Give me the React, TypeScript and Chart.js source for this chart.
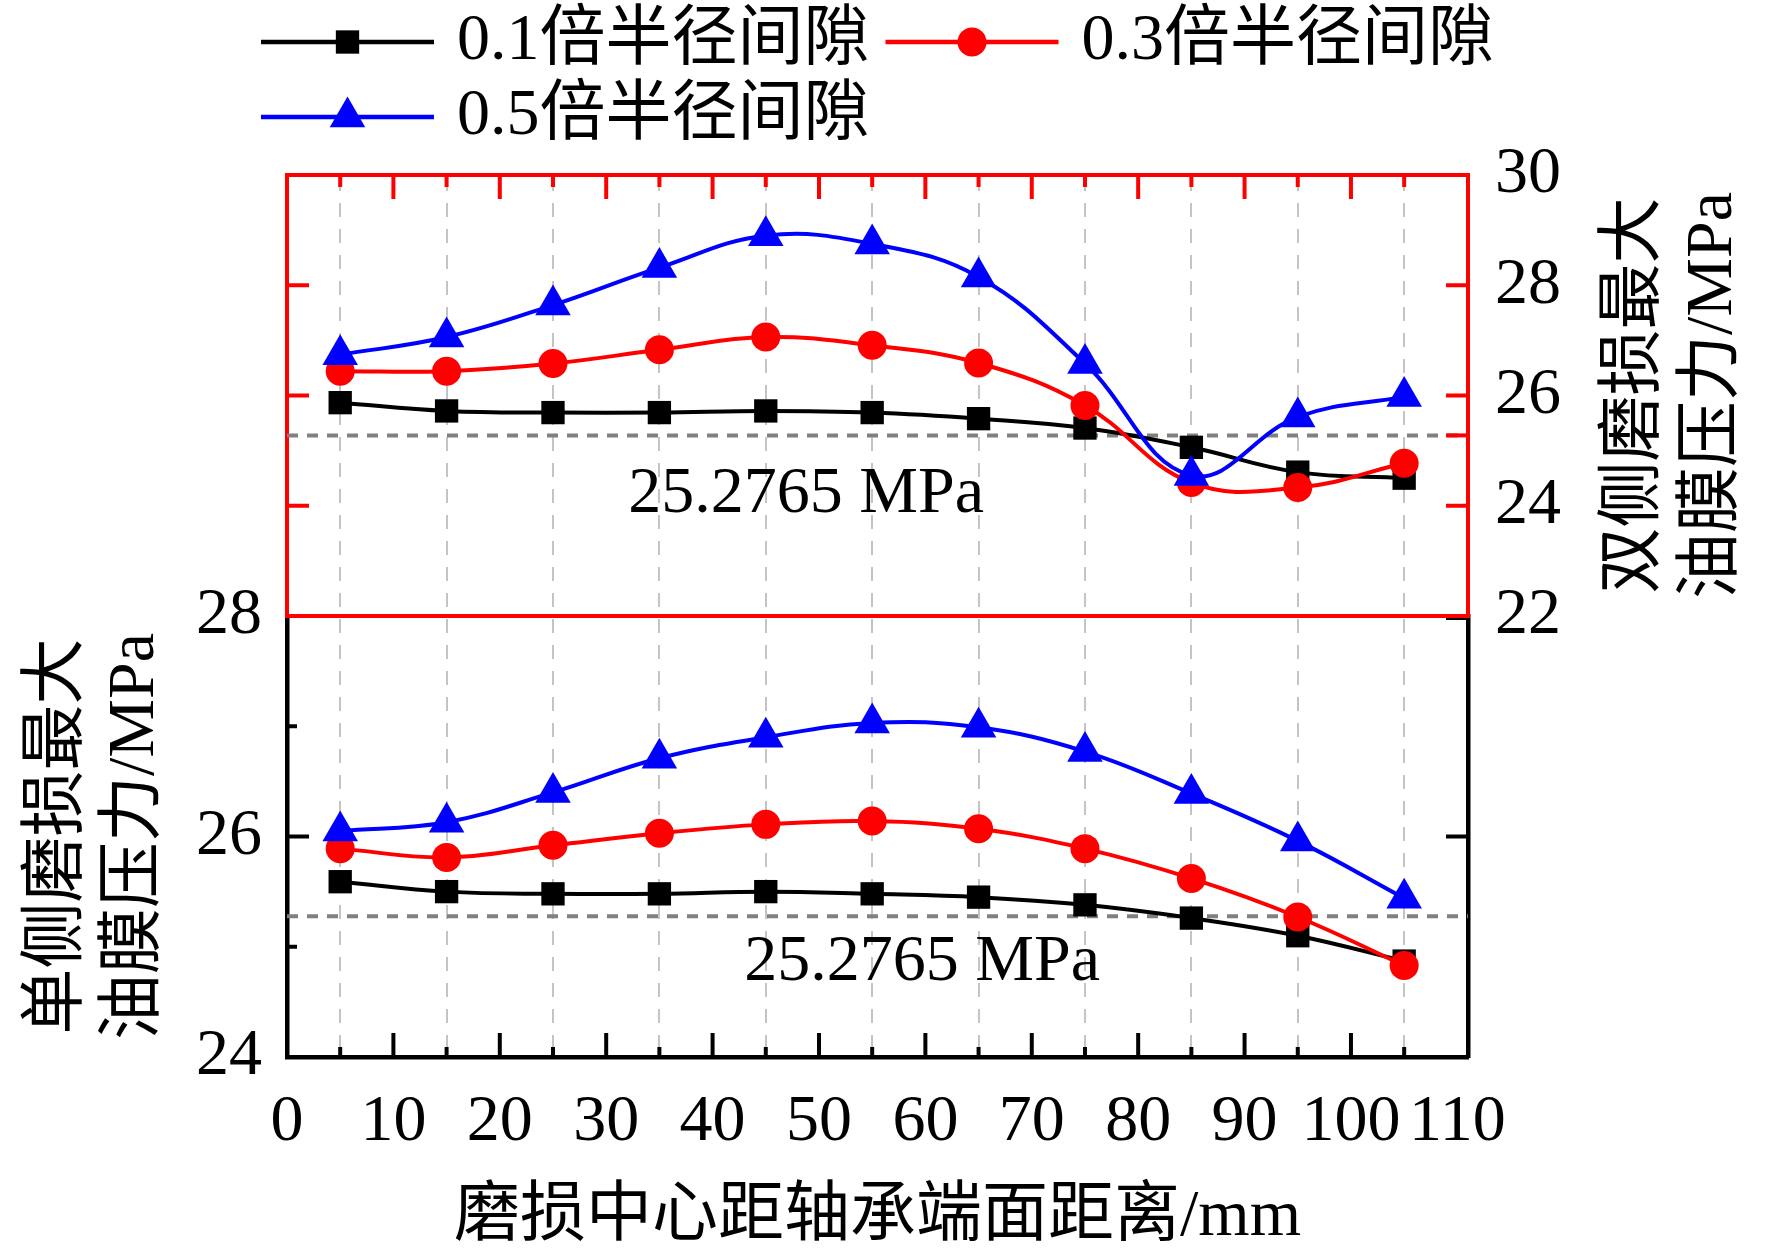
import React, { useEffect, useRef } from 'react';
import { Chart, registerables, PointElement } from 'chart.js';

Chart.register(...registerables);

// ---------- data ----------
const X_POSITIONS = [5, 15, 25, 35, 45, 55, 65, 75, 85, 95, 105];
const X_TICK_VALUES = [0, 10, 20, 30, 40, 50, 60, 70, 80, 90, 100, 110];
const X_MIN = 0;
const X_MAX = 111;

const SERIES_LABELS = ['0.1倍半径间隙', '0.3倍半径间隙', '0.5倍半径间隙'];

// lower panel: single-side wear (left axis)
const SINGLE_SIDE_01 = [25.59, 25.5, 25.48, 25.48, 25.5, 25.48, 25.45, 25.38, 25.26, 25.1, 24.87];
const SINGLE_SIDE_03 = [25.89, 25.81, 25.92, 26.03, 26.11, 26.14, 26.07, 25.89, 25.62, 25.27, 24.83];
const SINGLE_SIDE_05 = [26.05, 26.13, 26.4, 26.71, 26.9, 27.03, 26.99, 26.77, 26.39, 25.96, 25.44];

// upper panel: double-side wear (right axis)
const DOUBLE_SIDE_01 = [25.87, 25.72, 25.69, 25.69, 25.72, 25.69, 25.58, 25.41, 25.06, 24.61, 24.5];
const DOUBLE_SIDE_03 = [26.44, 26.44, 26.58, 26.83, 27.06, 26.91, 26.59, 25.82, 24.42, 24.33, 24.77];
const DOUBLE_SIDE_05 = [26.74, 27.06, 27.64, 28.32, 28.9, 28.75, 28.15, 26.58, 24.55, 25.61, 25.98];

const REFERENCE_VALUE = 25.2765;
const REFERENCE_TEXT = '25.2765 MPa';

const UPPER_MIN = 22;
const UPPER_MAX = 30;
const UPPER_TICKS = [22, 24, 26, 28, 30];
const UPPER_INNER_TICKS = [24, 26, 28];
const LOWER_MIN = 24;
const LOWER_MAX = 28;
const LOWER_TICKS = [24, 26, 28];
const LOWER_MINOR_TICKS = [25, 27];

const X_TITLE = '磨损中心距轴承端面距离/mm';
const LEFT_TITLE = ['单侧磨损最大', '油膜压力/MPa'];
const RIGHT_TITLE = ['双侧磨损最大', '油膜压力/MPa'];

// annotation anchor (data coordinates)
const UPPER_NOTE = { x: 48.8, y: 24.21 };
const LOWER_NOTE = { x: 59.7, y: 24.86 };

// ---------- styles ----------
const W = 1772;
const H = 1255;
const FONT = "'Liberation Serif', 'Noto Sans CJK SC', serif";
const FS = 66;
const RED = '#ff0000';
const BLACK = '#000000';
const BLUE = '#0000ff';
const COLORS = [BLACK, RED, BLUE];
const POINT_STYLES = ['rect', 'circle', 'triangle'];
const POINT_RADII = [16.5, 14.5, 20.5];
const ORDERS = [3, 2, 1];

const toPts = (ys: number[]) => X_POSITIONS.map((x, i) => ({ x, y: ys[i] }));

const decorPlugin = {
  id: 'decor',
  afterDatasetsDraw(chart: any) {
    const { ctx, chartArea: ca, scales } = chart;
    const xs = scales.x;
    const yU = scales.yUR;
    const yL = scales.yLL;
    ctx.save();
    ctx.lineCap = 'butt';
    const hTick = (y: number, x0: number, dir: number, len: number, color: string) => {
      ctx.strokeStyle = color;
      ctx.lineWidth = 4;
      ctx.beginPath();
      ctx.moveTo(x0, y);
      ctx.lineTo(x0 + dir * len, y);
      ctx.stroke();
    };
    const vTick = (x: number, y0: number, dir: number, len: number, color: string) => {
      ctx.strokeStyle = color;
      ctx.lineWidth = 4;
      ctx.beginPath();
      ctx.moveTo(x, y0);
      ctx.lineTo(x, y0 + dir * len);
      ctx.stroke();
    };
    // upper panel ticks (red)
    UPPER_INNER_TICKS.forEach((v) => {
      const p = yU.getPixelForValue(v);
      hTick(p, ca.left, 1, 22, RED);
      hTick(p, ca.right, -1, 22, RED);
    });
    hTick(yU.getPixelForValue(REFERENCE_VALUE), ca.right, -1, 22, RED);
    // lower panel ticks (black)
    hTick(yL.getPixelForValue(26), ca.left, 1, 22, BLACK);
    hTick(yL.getPixelForValue(26), ca.right, -1, 22, BLACK);
    hTick(yL.getPixelForValue(28) + 2, ca.right, -1, 22, BLACK);
    LOWER_MINOR_TICKS.forEach((v) => hTick(yL.getPixelForValue(v), ca.left, 1, 10, BLACK));
    // x ticks top (red) and bottom (black)
    X_TICK_VALUES.slice(1, -1).forEach((v) => {
      const p = xs.getPixelForValue(v);
      vTick(p, ca.top, 1, 24, RED);
      vTick(p, ca.bottom, -1, 24, BLACK);
    });
    X_POSITIONS.forEach((v) => {
      const p = xs.getPixelForValue(v);
      vTick(p, ca.top, 1, 12, RED);
      vTick(p, ca.bottom, -1, 10, BLACK);
    });
    // boundary line between panels
    ctx.strokeStyle = RED;
    ctx.lineWidth = 4;
    ctx.beginPath();
    ctx.moveTo(ca.left - 2, yU.bottom);
    ctx.lineTo(ca.right + 2, yU.bottom);
    ctx.stroke();

    // reference annotations
    ctx.fillStyle = BLACK;
    ctx.font = `${FS}px ${FONT}`;
    ctx.textAlign = 'center';
    ctx.textBaseline = 'middle';
    ctx.fillText(REFERENCE_TEXT, xs.getPixelForValue(UPPER_NOTE.x), yU.getPixelForValue(UPPER_NOTE.y));
    ctx.fillText(REFERENCE_TEXT, xs.getPixelForValue(LOWER_NOTE.x), yL.getPixelForValue(LOWER_NOTE.y));

    // right axis title (reads bottom to top)
    const cy = (yU.top + yU.bottom) / 2;
    RIGHT_TITLE.forEach((line, i) => {
      ctx.save();
      ctx.translate(yU.left + 168 + i * 78, cy);
      ctx.rotate(-Math.PI / 2);
      ctx.fillText(line, 0, 0);
      ctx.restore();
    });
    ctx.restore();
  },
  afterDraw(chart: any) {
    const { ctx } = chart;
    ctx.save();
    ctx.font = `${FS}px ${FONT}`;
    ctx.textAlign = 'left';
    ctx.textBaseline = 'middle';
    const lineLen = 173;
    const rows = [42, 117];
    const startX = 261;
    const firstTextW = ctx.measureText(SERIES_LABELS[0]).width;
    const items = [
      { x: startX, y: rows[0] },
      { x: startX + lineLen + 23 + firstTextW + 16, y: rows[0] },
      { x: startX, y: rows[1] },
    ];
    items.forEach((it, i) => {
      ctx.strokeStyle = COLORS[i];
      ctx.lineWidth = 4.5;
      ctx.beginPath();
      ctx.moveTo(it.x, it.y);
      ctx.lineTo(it.x + lineLen, it.y);
      ctx.stroke();
      const pt: any = new PointElement({});
      pt.x = it.x + lineLen / 2;
      pt.y = it.y;
      pt.options = {
        pointStyle: POINT_STYLES[i],
        radius: POINT_RADII[i],
        hoverRadius: 0,
        rotation: 0,
        backgroundColor: COLORS[i],
        borderColor: COLORS[i],
        borderWidth: 0,
      };
      pt.draw(ctx);
      ctx.fillStyle = BLACK;
      ctx.fillText(SERIES_LABELS[i], it.x + lineLen + 23, it.y);
    });
    ctx.restore();
  },
};

export default function App() {
  const ref = useRef<HTMLCanvasElement>(null);

  useEffect(() => {
    const canvas = ref.current;
    if (!canvas) return;
    Chart.defaults.font.family = FONT;
    Chart.defaults.color = BLACK;

    const upper = [DOUBLE_SIDE_01, DOUBLE_SIDE_03, DOUBLE_SIDE_05];
    const lower = [SINGLE_SIDE_01, SINGLE_SIDE_03, SINGLE_SIDE_05];

    const seriesDs = (ys: number[], i: number, axis: string) => ({
      label: SERIES_LABELS[i],
      data: toPts(ys),
      xAxisID: 'x',
      yAxisID: axis,
      borderColor: COLORS[i],
      backgroundColor: COLORS[i],
      borderWidth: 4,
      tension: 0.4,
      pointStyle: POINT_STYLES[i],
      pointRadius: POINT_RADII[i],
      pointHoverRadius: POINT_RADII[i],
      pointBorderWidth: 0,
      pointBackgroundColor: COLORS[i],
      order: ORDERS[i],
    });

    const refDs = (axis: string) => ({
      label: 'ref',
      data: [
        { x: X_MIN, y: REFERENCE_VALUE },
        { x: X_MAX, y: REFERENCE_VALUE },
      ],
      xAxisID: 'x',
      yAxisID: axis,
      borderColor: '#808080',
      borderWidth: 4,
      borderDash: [11, 9],
      pointRadius: 0,
      tension: 0,
      order: 10,
    });

    const tickFont = { size: FS, family: FONT };

    const chart = new Chart(canvas, {
      type: 'line',
      data: {
        datasets: [
          ...upper.map((ys, i) => seriesDs(ys, i, 'yUR')),
          ...lower.map((ys, i) => seriesDs(ys, i, 'yLL')),
          refDs('yUR'),
          refDs('yLL'),
        ],
      },
      options: {
        responsive: false,
        maintainAspectRatio: false,
        animation: false,
        devicePixelRatio: 1,
        layout: { padding: { top: 175, left: 0, right: 0, bottom: 0 } },
        plugins: { legend: { display: false }, tooltip: { enabled: false }, title: { display: false } },
        events: [],
        scales: {
          x: {
            type: 'linear',
            position: 'bottom',
            min: X_MIN,
            max: X_MAX,
            afterBuildTicks: (s: any) => {
              s.ticks = X_TICK_VALUES.map((v) => ({ value: v }));
            },
            ticks: { font: tickFont, color: BLACK, padding: 26, maxRotation: 0, minRotation: 0, autoSkip: false },
            grid: { display: false, drawTicks: false },
            border: { display: true, color: BLACK, width: 4.5 },
            title: {
              display: true,
              text: X_TITLE,
              color: BLACK,
              font: { size: FS, family: FONT, lineHeight: 1.05 },
              padding: { top: 0, bottom: 3 },
            },
            afterFit: (s: any) => {
              s.height = H - 1057;
            },
          },
          x2: {
            type: 'linear',
            position: 'top',
            min: X_MIN,
            max: X_MAX,
            afterBuildTicks: (s: any) => {
              s.ticks = X_POSITIONS.map((v) => ({ value: v }));
            },
            ticks: { display: false },
            grid: { display: true, drawOnChartArea: true, drawTicks: false, color: '#c4c4c4', lineWidth: 2 },
            border: { display: true, color: RED, width: 4, dash: [14, 12] },
            afterFit: (s: any) => {
              s.height = 0;
            },
          },
          yUL: {
            type: 'linear',
            position: 'left',
            stack: 'panels',
            stackWeight: 1,
            weight: 1,
            min: UPPER_MIN,
            max: UPPER_MAX,
            ticks: { display: false },
            grid: { display: false, drawTicks: false },
            border: { display: true, color: RED, width: 4 },
            afterFit: (s: any) => {
              s.width = 287;
            },
          },
          yLL: {
            type: 'linear',
            position: 'left',
            stack: 'panels',
            stackWeight: 1,
            weight: 0,
            min: LOWER_MIN,
            max: LOWER_MAX,
            afterBuildTicks: (s: any) => {
              s.ticks = LOWER_TICKS.map((v) => ({ value: v }));
            },
            ticks: { font: tickFont, color: BLACK, padding: 25, autoSkip: false },
            grid: { display: false, drawTicks: false },
            border: { display: true, color: BLACK, width: 4.5 },
            title: {
              display: true,
              text: LEFT_TITLE,
              color: BLACK,
              font: { size: FS, family: FONT, lineHeight: 77 / 66 },
              padding: { top: 20, bottom: 0 },
            },
            afterFit: (s: any) => {
              s.width = 287;
            },
          },
          yUR: {
            type: 'linear',
            position: 'right',
            stack: 'panels',
            stackWeight: 1,
            weight: 0,
            min: UPPER_MIN,
            max: UPPER_MAX,
            afterBuildTicks: (s: any) => {
              s.ticks = UPPER_TICKS.map((v) => ({ value: v }));
            },
            ticks: { font: tickFont, color: BLACK, padding: 27, autoSkip: false },
            grid: { display: false, drawTicks: false },
            border: { display: true, color: RED, width: 4 },
            afterFit: (s: any) => {
              s.width = W - 1468;
            },
          },
          yLR: {
            type: 'linear',
            position: 'right',
            stack: 'panels',
            stackWeight: 1,
            weight: 1,
            min: LOWER_MIN,
            max: LOWER_MAX,
            ticks: { display: false },
            grid: { display: false, drawTicks: false },
            border: { display: true, color: BLACK, width: 4.5 },
            afterFit: (s: any) => {
              s.width = W - 1468;
            },
          },
        },
      } as any,
      plugins: [decorPlugin],
    });

    return () => chart.destroy();
  }, []);

  return (
    <div style={{ position: 'absolute', left: 0, top: 0, width: W, height: H, background: '#ffffff' }}>
      <canvas ref={ref} width={W} height={H} style={{ width: W, height: H, display: 'block' }} />
    </div>
  );
}
